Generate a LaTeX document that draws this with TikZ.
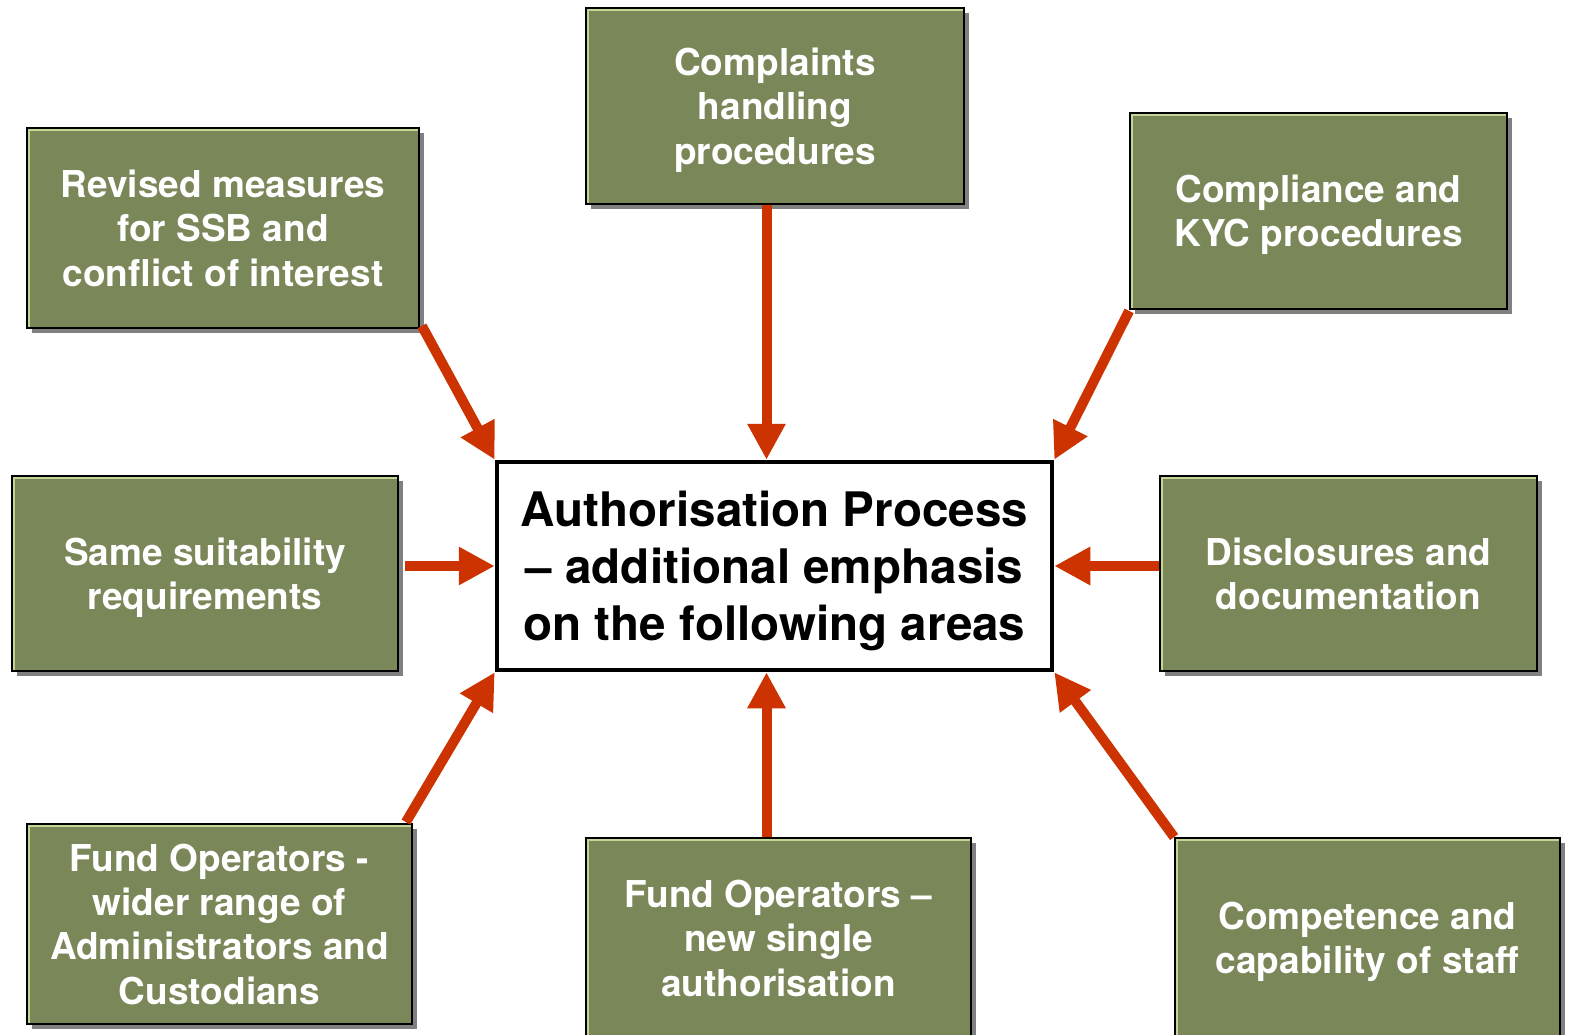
\documentclass[tikz,border=0pt]{standalone}
\usepackage{fontspec}
\setmainfont{TeX Gyre Heros}
\usetikzlibrary{arrows.meta,shadows}
\definecolor{boxolive}{RGB}{122,135,89}
\definecolor{boxedge}{RGB}{196,214,150}
\definecolor{arrowred}{RGB}{204,51,0}
\definecolor{shadowgray}{RGB}{128,128,128}
\tikzset{
  areabox/.style={draw=black, line width=1.8pt, fill=boxolive, text=white,
    inner sep=0pt, align=center, text depth=0pt,
    font=\fontsize{37}{44.4}\selectfont\bfseries,
    drop shadow={shadow xshift=5pt, shadow yshift=-5pt, fill=shadowgray, opacity=1},
    path picture={\draw[boxedge, line width=2pt]
      ([xshift=2.2pt]path picture bounding box.south west) --
      ([xshift=2.2pt,yshift=-2.2pt]path picture bounding box.north west) --
      ([yshift=-2.2pt]path picture bounding box.north east);}},
  hubbox/.style={draw=black, line width=4.5pt, fill=white, inner sep=0pt,
    align=center, text depth=-3pt, font=\fontsize{47.6}{57.2}\selectfont\bfseries,
    minimum width=555pt, minimum height=208pt},
  arr/.style={draw=arrowred, line width=10pt,
    -{Triangle[length=36pt,width=36pt]}}
}
\begin{document}
\begin{tikzpicture}[x=1pt,y=-1pt]
\useasboundingbox (0,0) rectangle (1570,1035);
\clip (0,0) rectangle (1570,1035);

% central box
\node[hubbox] (hub) at (774.5,566) {Authorisation Process\\– additional emphasis\\on the following areas};

% surrounding areas
\node[areabox, minimum width=378pt, minimum height=196pt] (complaints) at (775,106)
  {Complaints\\handling\\procedures};
\node[areabox, minimum width=392pt, minimum height=200pt] (revised) at (223,228)
  {Revised measures\\for SSB and\\conflict of interest};
\node[areabox, minimum width=377pt, minimum height=196pt] (kyc) at (1318.5,211)
  {Compliance and\\KYC procedures};
\node[areabox, minimum width=386pt, minimum height=195pt] (suit) at (205,573.5)
  {Same suitability\\requirements};
\node[areabox, minimum width=377pt, minimum height=195pt] (disc) at (1348.5,573.5)
  {Disclosures and\\documentation};
\node[areabox, minimum width=385pt, minimum height=200pt] (admin) at (219.5,924)
  {Fund Operators -\\wider range of\\Administrators and\\Custodians};
\node[areabox, minimum width=385pt, minimum height=200pt] (single) at (778.5,938)
  {Fund Operators –\\new single\\authorisation};
\node[areabox, minimum width=385pt, minimum height=200pt] (staff) at (1367.5,938)
  {Competence and\\capability of staff};

% helper points for the straight connectors
\coordinate (topin) at ([xshift=-8pt]hub.north);
\coordinate (botin) at ([xshift=-8pt]hub.south);
\coordinate (suitout) at ([xshift=6pt]suit.east);

% connectors
\draw[arr] (complaints.south -| topin) -- (topin);
\draw[arr] (single.north -| botin) -- (botin);
\draw[arr] (suitout |- hub.west) -- (hub.west);
\draw[arr] (disc.west |- hub.east) -- (hub.east);
\draw[arr] ([xshift=2pt,yshift=3pt]revised.south east) -- (hub.north west);
\draw[arr] ([yshift=-1pt]kyc.south west) -- (hub.north east);
\draw[arr] ([xshift=-7pt,yshift=1pt]admin.north east) -- (hub.south west);
\draw[arr] (staff.north west) -- (hub.south east);
\end{tikzpicture}
\end{document}
